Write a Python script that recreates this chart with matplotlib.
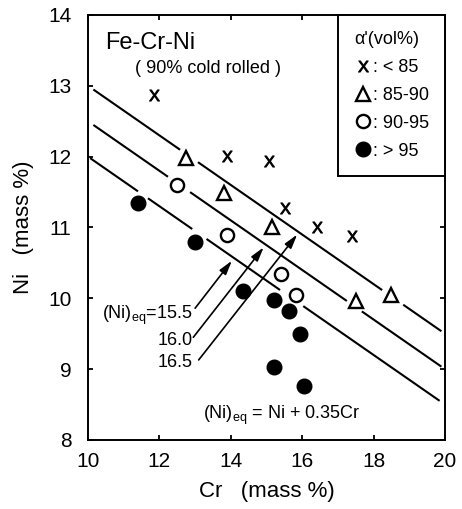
import matplotlib
matplotlib.use("Agg")
import matplotlib.pyplot as plt
from matplotlib.lines import Line2D

plt.rcParams['font.family'] = ['Liberation Sans', 'DejaVu Sans']
plt.rcParams['mathtext.default'] = 'regular'

# --- data (Cr, Ni in mass %) ---
cross_cr = [11.86, 13.89, 15.06, 15.52, 16.41, 17.39]
cross_ni = [12.87, 12.01, 11.94, 11.28, 11.01, 10.88]

tri_cr = [12.75, 13.82, 15.15, 17.51, 18.48]
tri_ni = [11.98, 11.49, 11.00, 9.96, 10.05]

open_cr = [12.49, 13.89, 15.41, 15.82]
open_ni = [11.60, 10.90, 10.35, 10.05]

fill_cr = [11.40, 13.00, 14.33, 15.20, 15.62, 15.94, 15.20, 16.04]
fill_ni = [11.35, 10.79, 10.10, 9.97, 9.82, 9.50, 9.03, 8.76]

# (Ni)eq = Ni + 0.35Cr iso-lines, drawn as broken segments (Cr ranges)
eq_values = [15.5, 16.0, 16.5]
eq_segments = [
    [(10.06, 11.40), (11.68, 12.92), (13.32, 15.38), (16.03, 19.85)],
    [(10.15, 12.24), (12.86, 17.25), (17.67, 19.90)],
    [(10.15, 12.58), (13.08, 18.24), (18.83, 19.90)],
]
eq_labels = [r'(Ni)$_{eq}$=15.5', '16.0', '16.5']
label_pos = [(12.92, 9.76), (12.92, 9.41), (12.92, 9.10)]
arrow_start = [(13.00, 9.86), (12.95, 9.45), (13.10, 9.13)]
arrow_end = [(14.03, 10.53), (14.92, 10.72), (15.86, 10.90)]

legend_labels = [': < 85', ': 85-90', ': 90-95', ': > 95']

fig = plt.figure(figsize=(4.62, 5.09), dpi=100)
ax = fig.add_axes([0.1905, 0.1356, 0.7727, 0.835])

for eq, segs in zip(eq_values, eq_segments):
    for c0, c1 in segs:
        ax.plot([c0, c1], [eq - 0.35 * c0, eq - 0.35 * c1], color='black', lw=1.5,
                solid_capstyle='butt')

cross_style = dict(ls='none', marker='$X$', ms=8, color='black', mew=0.7)
tri_style = dict(ls='none', marker='^', ms=9.5, mfc='white', mec='black', mew=1.7)
open_style = dict(ls='none', marker='o', ms=9.5, mfc='white', mec='black', mew=1.7)
fill_style = dict(ls='none', marker='o', ms=10.5, color='black')

ax.plot(cross_cr, cross_ni, **cross_style)
ax.plot(tri_cr, tri_ni, **tri_style)
ax.plot(open_cr, open_ni, **open_style)
ax.plot(fill_cr, fill_ni, **fill_style)

for lab, (lx, ly), s, e in zip(eq_labels, label_pos, arrow_start, arrow_end):
    ax.text(lx, ly, lab, ha='right', va='center', fontsize=13)
    ax.annotate('', xy=e, xytext=s,
                arrowprops=dict(arrowstyle='-|>,head_length=0.7,head_width=0.2',
                                color='black', lw=1.2, shrinkA=0, shrinkB=0,
                                mutation_scale=12))

ax.text(10.48, 13.6, 'Fe-Cr-Ni', fontsize=17, va='center', ha='left')
ax.text(11.32, 13.25, '( 90% cold rolled )', fontsize=13, va='center', ha='left')
ax.text(13.22, 8.35, r'(Ni)$_{eq}$ = Ni + 0.35Cr', fontsize=13, va='center', ha='left')

handles = [Line2D([], [], **cross_style), Line2D([], [], **tri_style),
           Line2D([], [], **open_style), Line2D([], [], **fill_style)]
leg = ax.legend(handles, legend_labels, title="α'(vol%)", loc='upper right',
                borderaxespad=0, fancybox=False, edgecolor='black', framealpha=1,
                fontsize=13, title_fontsize=13, handlelength=0.9, handletextpad=0.1,
                labelspacing=0.6, borderpad=0.9, alignment='left')
leg.get_frame().set_linewidth(1.4)

ax.set_xlim(10, 20)
ax.set_ylim(8, 14)
ax.set_xticks([10, 12, 14, 16, 18, 20])
ax.set_yticks([8, 9, 10, 11, 12, 13, 14])
ax.tick_params(direction='in', length=3.5, width=1.3, labelsize=15,
               top=True, right=True)
ax.tick_params(axis='y', pad=12)
ax.tick_params(axis='x', pad=9)
for sp in ax.spines.values():
    sp.set_linewidth(1.4)

ax.set_xlabel('Cr   (mass %)', fontsize=16, labelpad=7)
ax.set_ylabel('Ni   (mass %)', fontsize=16, labelpad=10)

fig.savefig('out.png', dpi=100)
